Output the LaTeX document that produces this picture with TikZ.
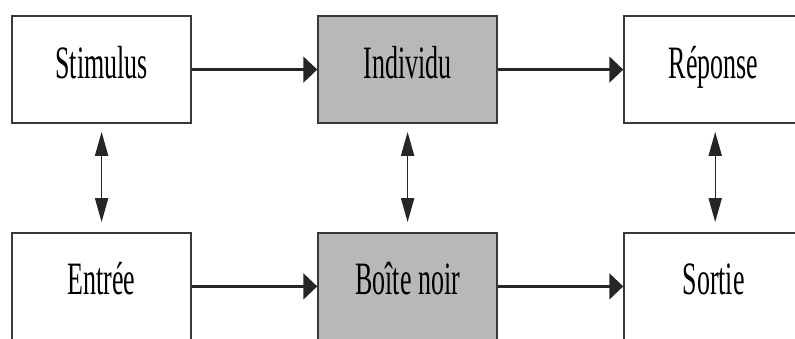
\documentclass[tikz,border=0pt]{standalone}
\usepackage{fontspec}
\setmainfont{Liberation Serif}[FakeStretch=0.56]
\usepackage{tikz}
\usetikzlibrary{arrows.meta}
\definecolor{boxgray}{gray}{0.72}
\definecolor{edgegray}{gray}{0.22}

\begin{document}
\begin{tikzpicture}[line width = 1.2pt,
                        box/.style = {rectangle, draw = edgegray, fill = white, inner sep = 0pt,
                                      minimum width = 4.475cm, minimum height = 2.675cm,
                                      text height = 0.75cm, text depth = 0.325cm,
                                      font = \fontsize{33}{36}\selectfont},
                        dark/.style = {box, fill = boxgray},
                        flow/.style = {draw = black!85, line width = 1.6pt,
                                       -{Triangle[length=0.35cm, width=0.65cm]}},
                        link/.style = {draw = black!85, line width = 0.9pt,
                                       {Triangle[length=0.6cm, width=0.33cm]}-{Triangle[length=0.6cm, width=0.33cm]},
                                       shorten <= 0.2cm, shorten >= 0.25cm}]
      \useasboundingbox (0, 0) rectangle (19.875, 8.45);
      \clip (0, 0) rectangle (19.875, 8.45);

      \node [box] (stim) at (2.54, 6.71) {Stimulus};
      \node [dark] (indiv) at (10.19, 6.71) {Individu};
      \node [box] (rep) at (17.84, 6.71) {Réponse};

      \node [box] (entree) at (2.54, 1.29) {Entrée};
      \node [dark] (boite) at (10.19, 1.29) {Boîte noir};
      \node [box] (sortie) at (17.84, 1.29) {Sortie};

      \draw [flow] (stim) -- (indiv);
      \draw [flow] (indiv) -- (rep);
      \draw [flow] (entree) -- (boite);
      \draw [flow] (boite) -- (sortie);

      \draw [link] (stim) -- (entree);
      \draw [link] (indiv) -- (boite);
      \draw [link] ([xshift=0.04cm]rep.south) -- ([xshift=0.04cm]sortie.north);
      \end{tikzpicture}
\end{document}
